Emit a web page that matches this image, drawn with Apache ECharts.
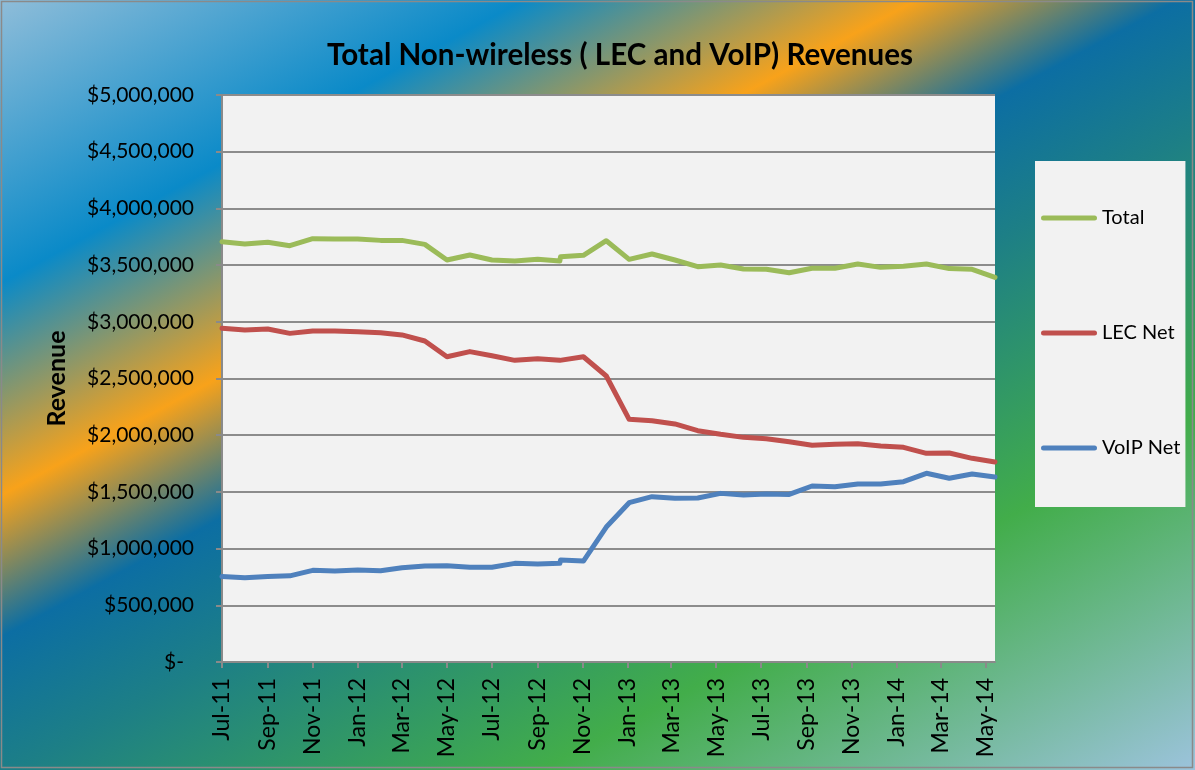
<!DOCTYPE html>
<html><head><meta charset="utf-8">
<script src="https://cdn.jsdelivr.net/npm/echarts@6/dist/echarts.min.js"></script>
<style>html,body{margin:0;padding:0;background:#fff}#c{width:1195px;height:770px}</style>
</head><body><div id="c"></div>
<script>
// Data dates (the second block of the source data is spaced by 31 days)
const dates = [
  '2011-07-01','2011-08-01','2011-09-01','2011-10-01','2011-11-01','2011-12-01',
  '2012-01-01','2012-02-01','2012-03-01','2012-04-01','2012-05-01','2012-06-01',
  '2012-07-01','2012-08-01','2012-09-01','2012-10-01',
  '2012-10-02','2012-11-02','2012-12-03','2013-01-03','2013-02-03','2013-03-06',
  '2013-04-06','2013-05-07','2013-06-07','2013-07-08','2013-08-08','2013-09-08',
  '2013-10-09','2013-11-09','2013-12-10','2014-01-10','2014-02-10','2014-03-13',
  '2014-04-13','2014-05-14'
];
const total = [
  3706000, 3686000, 3701000, 3671000, 3733000, 3730000, 3730000, 3718000, 3718000, 3683000,
  3545000, 3589000, 3545000, 3536000, 3551000, 3536000,
  3574000, 3586000, 3715000, 3551000, 3598000, 3545000, 3486000, 3501000, 3466000, 3463000,
  3433000, 3472000, 3472000, 3510000, 3480000, 3489000, 3510000, 3469000, 3463000, 3392000
];
const lecNet = [
  2943000, 2928000, 2936000, 2898000, 2919000, 2919000, 2913000, 2904000, 2884000, 2831000,
  2692000, 2737000, 2701000, 2660000, 2675000, 2660000,
  2668000, 2692000, 2522000, 2140000, 2128000, 2099000, 2040000, 2008000, 1981000, 1969000,
  1943000, 1911000, 1920000, 1925000, 1905000, 1893000, 1840000, 1843000, 1796000, 1764000
];
const voipNet = [
  755000, 743000, 755000, 760000, 808000, 802000, 811000, 805000, 832000, 847000,
  849000, 835000, 835000, 870000, 864000, 870000,
  899000, 890000, 1190000, 1405000, 1458000, 1443000, 1446000, 1487000, 1473000, 1481000,
  1478000, 1552000, 1546000, 1570000, 1570000, 1590000, 1664000, 1620000, 1658000, 1631000
];
const seriesNames = ['Total', 'LEC Net', 'VoIP Net'];
const monthNames = ['Jan','Feb','Mar','Apr','May','Jun','Jul','Aug','Sep','Oct','Nov','Dec'];
const titleText = 'Total Non-wireless ( LEC and VoIP) Revenues';
const yAxisName = 'Revenue';

const ts = s => { const p = s.split('-').map(Number); return Date.UTC(p[0], p[1] - 1, p[2]); };
const pairs = arr => dates.map((d, i) => [ts(d), arr[i]]);
const colors = ['#9bbb59', '#c0504d', '#4f81bd'];
const FONT = 'Lato';
const capsule = 'path://M2.5,0 L53.5,0 A2.5,2.5 0 0 1 53.5,5 L2.5,5 A2.5,2.5 0 0 1 2.5,0 Z';

const chart = echarts.init(document.getElementById('c'), null, {renderer: 'canvas'});
chart.setOption({
  useUTC: true,
  animation: false,
  backgroundColor: {
    type: 'linear', x: 0, y: 0, x2: 593, y2: 1096, global: true,
    colorStops: [
      {offset: 0, color: '#8fbdd9'},
      {offset: 0.2, color: '#0a8ac8'},
      {offset: 0.35, color: '#f8a21a'},
      {offset: 0.45, color: '#0c6ea3'},
      {offset: 0.55, color: '#1d7f86'},
      {offset: 0.75, color: '#42ad4a'},
      {offset: 1, color: '#9cc3dc'}
    ]
  },
  title: {
    text: titleText, left: 615, top: 35, textAlign: 'center',
    textStyle: {fontFamily: FONT, fontWeight: 'bold', fontSize: 29.6, color: '#000'}
  },
  graphic: [{
    type: 'rect', z: 100, silent: true,
    shape: {x: 1.5, y: 1.5, width: 1191, height: 766},
    style: {fill: null, stroke: '#8a8a8a', lineWidth: 1.5}
  }],
  legend: {
    orient: 'vertical', left: 1035, top: 161,
    padding: [47, 5, 49, 6], itemGap: 95,
    backgroundColor: '#f2f2f2',
    itemWidth: 56, itemHeight: 5, icon: capsule,
    textStyle: {fontFamily: FONT, fontSize: 20, color: '#000'},
    data: seriesNames
  },
  grid: {left: 222, top: 95, right: 200, bottom: 108, show: true, backgroundColor: '#f2f2f2', borderWidth: 0},
  xAxis: {
    type: 'time', min: ts(dates[0]), max: ts(dates[dates.length - 1]),
    minInterval: 70 * 864e5, maxInterval: 70 * 864e5,
    axisLine: {lineStyle: {color: '#8a8a8a', width: 2}},
    axisTick: {show: true, length: 6, lineStyle: {color: '#8a8a8a', width: 2}},
    splitLine: {show: false},
    axisLabel: {
      rotate: 90, interval: 0, margin: 16, hideOverlap: false,
      fontFamily: FONT, fontSize: 23, color: '#000',
      formatter: function (v) {
        const d = new Date(v);
        if (d.getUTCDate() !== 1) return '';
        return monthNames[d.getUTCMonth()] + '-' + String(d.getUTCFullYear()).slice(2);
      }
    }
  },
  yAxis: {
    type: 'value', min: 0, max: 5000000, interval: 500000,
    name: yAxisName, nameLocation: 'middle', nameRotate: 90, nameGap: 153,
    nameTextStyle: {fontFamily: FONT, fontWeight: 'bold', fontSize: 25, color: '#000'},
    axisLine: {show: true, lineStyle: {color: '#8a8a8a', width: 2}},
    axisTick: {show: true, length: 6, lineStyle: {color: '#8a8a8a', width: 2}},
    splitLine: {show: true, lineStyle: {color: '#8c8c8c', width: 2}},
    axisLabel: {
      margin: 28, fontFamily: FONT, fontSize: 21, color: '#000',
      formatter: function (v) { return v === 0 ? '{z|$-}' : '$' + v.toLocaleString('en-US'); },
      rich: {z: {fontFamily: FONT, fontSize: 21, color: '#000', padding: [0, 10, 0, 0]}}
    }
  },
  series: [
    {name: seriesNames[0], type: 'line', data: pairs(total), color: colors[0]},
    {name: seriesNames[1], type: 'line', data: pairs(lecNet), color: colors[1]},
    {name: seriesNames[2], type: 'line', data: pairs(voipNet), color: colors[2]}
  ].map(s => Object.assign(s, {
    symbol: 'none', showSymbol: false, smooth: false,
    lineStyle: {width: 5, color: s.color, cap: 'round', join: 'round'},
    itemStyle: {color: s.color}
  }))
});
</script>
</body></html>
